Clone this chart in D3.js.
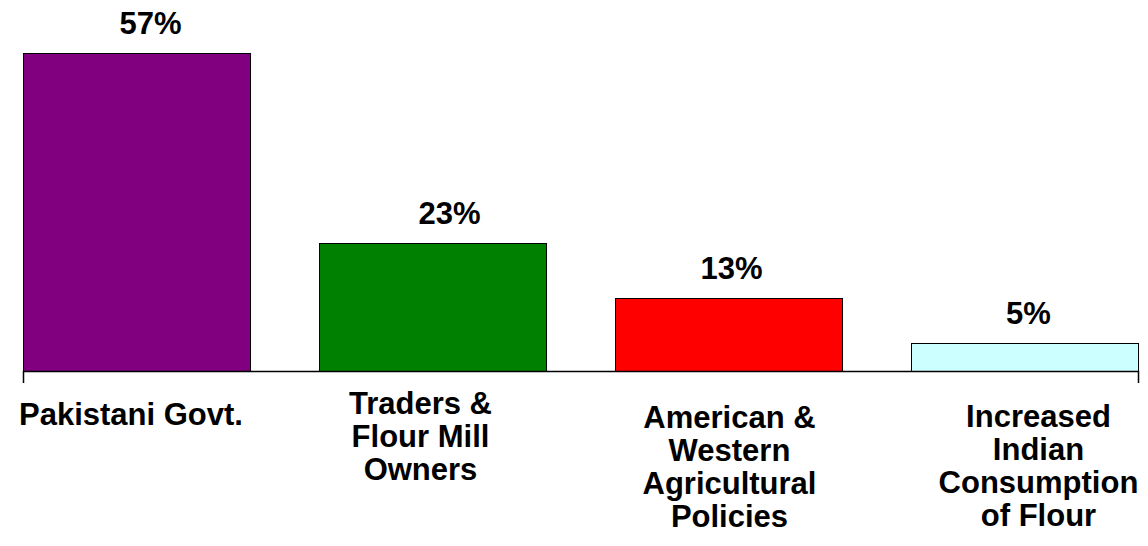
<!DOCTYPE html>
<html>
<head>
<meta charset="utf-8">
<script src="https://cdn.jsdelivr.net/npm/d3@7"></script>
<style>
  html, body { margin: 0; padding: 0; background: #ffffff; }
  svg { display: block; }
  text { font-family: "Liberation Sans", Arial, Helvetica, sans-serif; font-weight: bold; fill: #000; }
</style>
</head>
<body>
<svg id="chart" width="1148" height="546"></svg>
<script>
// ---- Data ----
const categories = ["Pakistani Govt.", "Traders & Flour Mill Owners", "American & Western Agricultural Policies", "Increased Indian Consumption of Flour"];
const categoryLines = [
  ["Pakistani Govt."],
  ["Traders &", "Flour Mill", "Owners"],
  ["American &", "Western", "Agricultural", "Policies"],
  ["Increased", "Indian", "Consumption", "of Flour"]
];
const values = [57, 23, 13, 5];
const valueLabels = ["57%", "23%", "13%", "5%"];
const colors = ["#800080", "#008000", "#FF0000", "#CCFFFF"];

// ---- Layout ----
const W = 1148, H = 546;
const baseY = 371;
const valueDx = [14, 17, 3, 4];
const catDx = [-5.5, -12, 1, 14];
const catFirstBaseline = [425, 414, 428, 427];
const lineStep = 33;
const fontSize = 31;

const svg = d3.select("#chart");

const x = d3.scaleBand()
  .domain(categories)
  .range([23, 1138])
  .paddingInner(0.233)
  .paddingOuter(0);

const y = d3.scaleLinear()
  .domain([0, 57])
  .range([baseY, 53]);

// Bars
svg.append("g")
  .selectAll("rect")
  .data(values)
  .join("rect")
  .attr("x", (d, i) => Math.round(x(categories[i])) + 0.5)
  .attr("y", d => Math.round(y(d)) + 0.5)
  .attr("width", x.bandwidth())
  .attr("height", d => baseY - Math.round(y(d)))
  .attr("fill", (d, i) => colors[i])
  .attr("stroke", "#000")
  .attr("stroke-width", 1);

// Axis (only outer ticks)
const axis = d3.axisBottom(x).tickValues([]).tickSizeOuter(12);
const gAxis = svg.append("g")
  .attr("transform", `translate(0,${baseY})`)
  .call(axis);
gAxis.select(".domain").attr("stroke", "#000").attr("stroke-width", 1.5);

// Value labels
svg.append("g")
  .selectAll("text")
  .data(values)
  .join("text")
  .attr("x", (d, i) => x(categories[i]) + x.bandwidth() / 2 + valueDx[i])
  .attr("y", d => y(d) - 19)
  .attr("text-anchor", "middle")
  .attr("font-size", fontSize)
  .text((d, i) => valueLabels[i]);

// Category labels
const catG = svg.append("g");
categories.forEach((c, i) => {
  const t = catG.append("text")
    .attr("text-anchor", "middle")
    .attr("font-size", fontSize);
  categoryLines[i].forEach((line, j) => {
    t.append("tspan")
      .attr("x", x(c) + x.bandwidth() / 2 + catDx[i])
      .attr("y", catFirstBaseline[i] + j * lineStep)
      .text(line);
  });
});
</script>
</body>
</html>
